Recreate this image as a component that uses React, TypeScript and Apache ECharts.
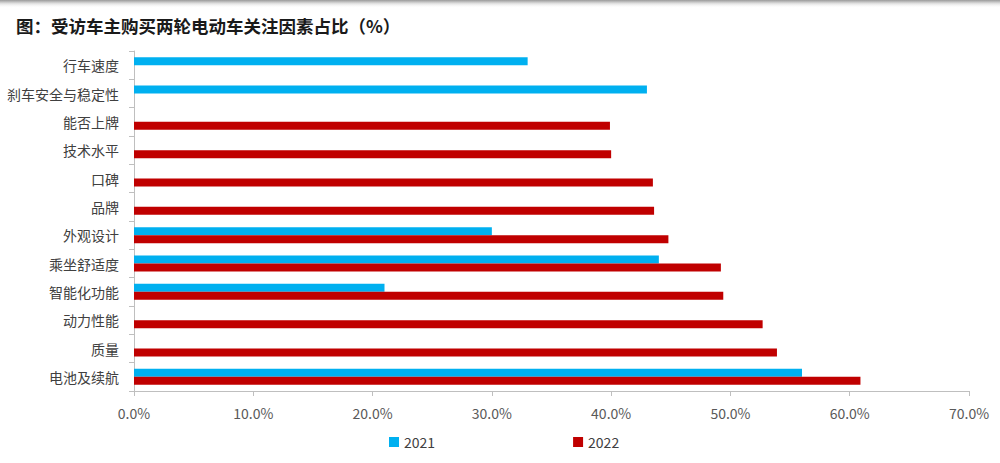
import React, { useEffect, useRef } from "react";
import * as echarts from "echarts";

const titleText = "图：受访车主购买两轮电动车关注因素占比（%）";
const categories = [
  "行车速度",
  "刹车安全与稳定性",
  "能否上牌",
  "技术水平",
  "口碑",
  "品牌",
  "外观设计",
  "乘坐舒适度",
  "智能化功能",
  "动力性能",
  "质量",
  "电池及续航",
];
const seriesNames = ["2021", "2022"];
const values2021: (number | null)[] = [33.0, 43.0, null, null, null, null, 30.0, 44.0, 21.0, null, null, 56.0];
const values2022: (number | null)[] = [null, null, 39.9, 40.0, 43.5, 43.6, 44.8, 49.2, 49.4, 52.7, 53.9, 60.9];
const xMin = 0;
const xMax = 70;
const xInterval = 10;

const FONT = "'Noto Sans CJK SC', 'Noto Sans', sans-serif";

export default function App() {
  const ref = useRef<HTMLDivElement>(null);
  useEffect(() => {
    if (!ref.current) return;
    const chart = echarts.init(ref.current, undefined, { renderer: "svg" });
    chart.setOption({
      animation: false,
      backgroundColor: "#ffffff",
      title: {
        text: titleText,
        left: 11,
        top: 12,
        textStyle: { fontFamily: FONT, fontSize: 17.5, fontWeight: "bold", color: "#1a1a1a" },
      },
      graphic: [
        {
          type: "rect",
          left: 0,
          top: 0,
          shape: { width: 1000, height: 8 },
          style: {
            fill: new echarts.graphic.LinearGradient(0, 0, 0, 1, [
              { offset: 0, color: "#9a9a9a" },
              { offset: 0.4, color: "#dcdcdc" },
              { offset: 1, color: "rgba(255,255,255,0)" },
            ]),
          },
          silent: true,
        },
      ],
      legend: {
        data: seriesNames,
        left: 384,
        top: 430,
        itemWidth: 10,
        itemHeight: 10,
        itemGap: 138,
        icon: "rect",
        textStyle: { fontFamily: FONT, fontSize: 14, color: "#404040" },
      },
      grid: { left: 134, right: 31, top: 51, bottom: 72, containLabel: false },
      xAxis: {
        type: "value",
        min: xMin,
        max: xMax,
        interval: xInterval,
        axisLine: { show: true, lineStyle: { color: "#bfbfbf", width: 1 } },
        axisTick: { show: true, length: 5, lineStyle: { color: "#bfbfbf" } },
        splitLine: { show: false },
        axisLabel: {
          margin: 15,
          fontFamily: FONT,
          fontSize: 14,
          color: "#595959",
          formatter: (v: number) => v.toFixed(1) + "%",
        },
      },
      yAxis: {
        type: "category",
        inverse: true,
        data: categories,
        axisLine: { show: true, lineStyle: { color: "#bfbfbf", width: 1 } },
        axisTick: { show: true, length: 5, lineStyle: { color: "#bfbfbf" } },
        axisLabel: { margin: 15, fontFamily: FONT, fontSize: 14, color: "#404040" },
      },
      series: [
        {
          name: seriesNames[0],
          type: "bar",
          data: values2021,
          barWidth: 8,
          barGap: "0%",
          itemStyle: { color: "#00B0F0" },
        },
        {
          name: seriesNames[1],
          type: "bar",
          data: values2022,
          barWidth: 8,
          barGap: "0%",
          itemStyle: { color: "#C00000" },
        },
      ],
    });
    return () => chart.dispose();
  }, []);
  return (
    <div
      ref={ref}
      style={{ position: "absolute", left: 0, top: 0, width: 1000, height: 463 }}
    />
  );
}
